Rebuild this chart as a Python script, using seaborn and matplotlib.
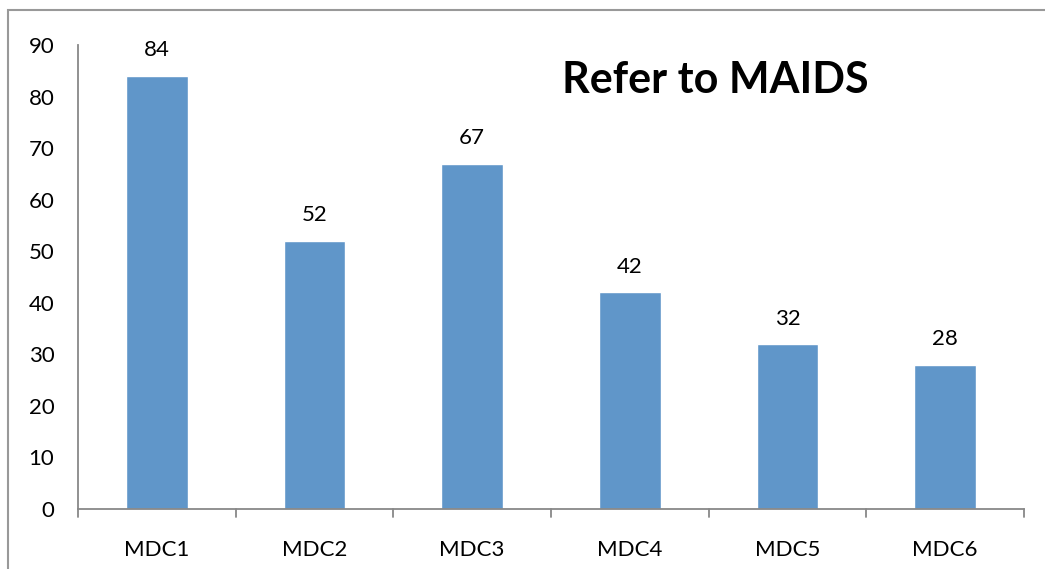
import matplotlib
matplotlib.use("Agg")
import matplotlib.pyplot as plt
import seaborn as sns
import pandas as pd
from matplotlib.patches import Rectangle

# Chart data
categories = ["MDC1", "MDC2", "MDC3", "MDC4", "MDC5", "MDC6"]
counts = [84, 52, 67, 42, 32, 28]
y_ticks = [0, 10, 20, 30, 40, 50, 60, 70, 80, 90]
title = "Refer to MAIDS"

df = pd.DataFrame({"cat": categories, "val": counts})

sns.set_style("white")
plt.rcParams["font.family"] = ["Lato", "DejaVu Sans"]
plt.rcParams["text.color"] = "black"

fig = plt.figure(figsize=(10.45, 5.69), dpi=100)
ax = fig.add_axes([78 / 1045, 1 - 509 / 569, (1024 - 78) / 1045, (509 - 45) / 569])

sns.barplot(data=df, x="cat", y="val", color="#6096C9", width=0.39,
            saturation=1, ax=ax)

# value labels above bars
for i, v in enumerate(counts):
    ax.text(i, v + 3, str(v), ha="center", va="bottom", fontsize=16,
            color="black")

ax.set_ylim(0, 90)
ax.set_xlim(-0.5, len(categories) - 0.5)
ax.set_yticks(y_ticks)
ax.set_xlabel("")
ax.set_ylabel("")
ax.tick_params(axis="both", labelsize=16, colors="#888888", labelcolor="black",
               length=7, width=1.3, direction="out")
ax.tick_params(axis="x", length=0, pad=22)
ax.tick_params(axis="y", pad=10)

# category boundary ticks on x axis
for b in range(len(categories) + 1):
    ax.plot([b - 0.5, b - 0.5], [0, -1.5], color="#888888", lw=1.3,
            clip_on=False)

for side in ["top", "right"]:
    ax.spines[side].set_visible(False)
for side in ["left", "bottom"]:
    ax.spines[side].set_color("#888888")
    ax.spines[side].set_linewidth(1.3)

ax.text(0.674, 0.925, title, transform=ax.transAxes, ha="center", va="center",
        fontsize=31, fontweight="bold", color="black")

# outer chart-area border (cropped on right and bottom)
fig.patches.append(Rectangle((8 / 1045, -0.05), 1.1, 1 - 10 / 569 + 0.05,
                             transform=fig.transFigure, fill=False,
                             edgecolor="#999999", lw=1.5))

fig.savefig("out.png", dpi=100)
